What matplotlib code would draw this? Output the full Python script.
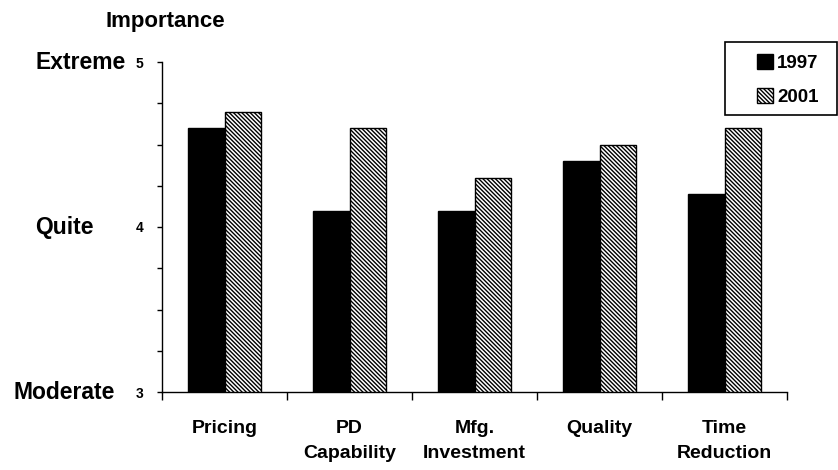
import matplotlib.pyplot as plt
import numpy as np
from matplotlib.patches import Rectangle
from matplotlib.transforms import blended_transform_factory

plt.rcParams['font.family'] = ['Liberation Sans', 'DejaVu Sans']
plt.rcParams['hatch.linewidth'] = 1.0

categories = ['Pricing', 'PD\nCapability', 'Mfg.\nInvestment', 'Quality', 'Time\nReduction']
v1997 = [4.6, 4.1, 4.1, 4.4, 4.2]
v2001 = [4.7, 4.6, 4.3, 4.5, 4.6]
years = ['1997', '2001']
level_values = [5, 4, 3]
level_names = ['Extreme', 'Quite', 'Moderate']
level_left = [35, 35, 13]   # pixel x of the left edge of each name

W, H = 838, 470
fig = plt.figure(figsize=(W / 100, H / 100), dpi=100)
ax = fig.add_axes([162 / W, 1 - 392 / H, (787 - 162) / W, (392 - 62) / H])

x = np.arange(len(categories))
w = 0.29
ax.bar(x - w / 2, v1997, w, color='black', edgecolor='black', linewidth=1, label=years[0])
ax.bar(x + w / 2, v2001, w, color='white', edgecolor='black', linewidth=1,
       hatch='\\' * 8, label=years[1])

ax.set_xlim(-0.5, len(categories) - 0.5)
ax.set_ylim(3, 5)
ax.set_xticks(np.arange(len(categories) + 1) - 0.5)
ax.set_xticklabels([])
ax.set_xticks(x, minor=True)
ax.set_xticklabels(categories, minor=True, fontsize=14, fontweight='bold', linespacing=1.6)
ax.tick_params(axis='x', which='minor', length=0, pad=20)
ax.tick_params(axis='x', which='major', length=6, width=1, direction='out')

yt = np.arange(3, 5.01, 0.25)
ax.set_yticks(yt)
ax.set_yticklabels([str(int(v)) if v in level_values else '' for v in yt],
                   fontsize=10, fontweight='bold')
ax.tick_params(axis='y', length=3.6, width=1, direction='out', pad=10)

for s in ['top', 'right']:
    ax.spines[s].set_visible(False)
for s in ['left', 'bottom']:
    ax.spines[s].set_linewidth(1)

tr = blended_transform_factory(fig.transFigure, ax.transData)
for v, name, lx in zip(level_values, level_names, level_left):
    fig.text(lx / W, v - 0.04, name, transform=tr, ha='left', va='baseline',
             fontsize=16.5, fontweight='bold')

fig.text(165 / W, 1 - 21 / H, 'Importance', ha='center', va='center',
         fontsize=16, fontweight='bold')

# legend: frame drawn as a rectangle, entries centred inside it
fig.patches.append(Rectangle((725 / W, 1 - 115 / H), 112 / W, 73 / H,
                             transform=fig.transFigure, fill=False,
                             edgecolor='black', linewidth=1.2))
fig.legend(loc='center', bbox_to_anchor=(788 / W, 1 - 80 / H), frameon=False,
           handlelength=0.85, handleheight=0.85, handletextpad=0.2,
           labelspacing=0.85, borderpad=0,
           prop={'size': 13.5, 'weight': 'bold'})

fig.savefig('out.png', dpi=100)
